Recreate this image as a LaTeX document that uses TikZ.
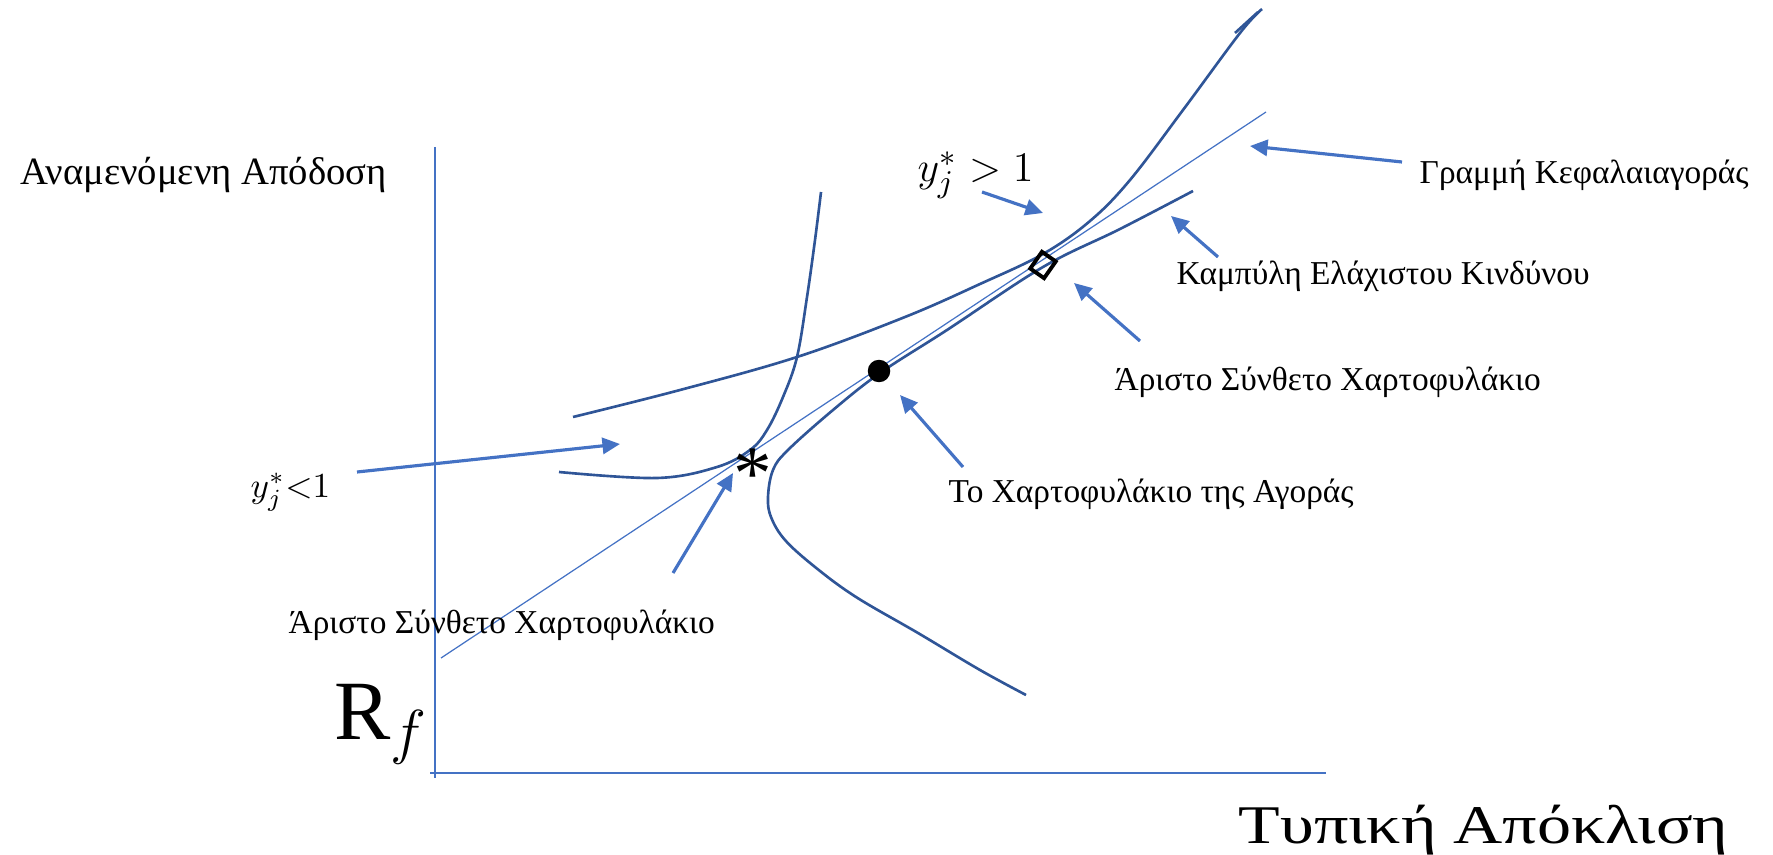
\documentclass[tikz,border=0pt]{standalone}
\usepackage{fontspec}
\setmainfont{Liberation Serif}
\newfontfamily\wideserif[FakeStretch=1.25]{Liberation Serif}
\usepackage{tikz}
\usetikzlibrary{graphs}
\usetikzlibrary{arrows.meta}
\usepackage{xcolor}
\definecolor{axisblue}{HTML}{4472C4}
\definecolor{curveblue}{HTML}{2F5597}

\begin{document}
\begin{tikzpicture}[
    >={Triangle[length=5pt,width=4.6pt]},
    axisline/.style={axisblue, line width=0.35pt},
    frontier/.style={curveblue, line width=0.75pt},
    pointer/.style={axisblue, line width=0.9pt},
    lbl/.style={anchor=west, inner sep=0pt, font=\fontsize{9.5}{11}\selectfont},
  ]
            \useasboundingbox (0,0) rectangle (17.73,8.54);

            % axes
            \draw[axisline] (4.35,7.07) -- (4.35,0.76);
            \draw[axisline] (4.30,0.81) -- (13.26,0.81);
            \draw[axisline] (4.41,1.96) -- (12.66,7.42);

            % minimum variance curve
            \draw[frontier] plot[smooth, tension=0.6] coordinates {(10.26,1.59) (9.80,1.84) (9.18,2.21) (8.56,2.57) (8.15,2.87) (7.85,3.14) (7.71,3.37) (7.68,3.57) (7.73,3.84) (7.88,4.04) (8.33,4.44) (8.80,4.81) (9.47,5.24) (10.43,5.87) (11.20,6.25) (11.93,6.63)};
            % indifference curves
            \draw[frontier] plot[smooth, tension=0.6] coordinates {(5.59,3.82) (6.57,3.76) (7.17,3.87) (7.50,4.04) (7.67,4.24) (7.83,4.57) (7.97,4.97) (8.07,5.57) (8.15,6.14) (8.21,6.62)};
            \draw[frontier] plot[smooth, tension=0.6] coordinates {(5.73,4.37) (6.80,4.64) (7.97,4.97) (9.05,5.37) (9.80,5.70) (10.43,6.00) (10.90,6.33) (11.30,6.74) (11.83,7.44) (12.40,8.21) (12.62,8.45)};
            \draw[frontier] (12.35,8.21) -- (12.58,8.42);

            \node (market) at (8.79, 4.83) [circle, fill=black, inner sep=0pt, minimum size=6.4pt] {};
            \node (optimum) at (10.43, 5.89) [draw=black, line width=1.1pt, rotate=-35, inner sep=0pt, minimum width=4.8pt, minimum height=5.8pt] {};
            \node (star) at (7.53, 3.55) [anchor=base, inner sep=0pt, font=\fontsize{22}{24}\selectfont] {*};

            \node (ylab) at (0.20, 6.79) [lbl, font=\fontsize{11}{13}\selectfont] {Αναμενόμενη Απόδοση};
            \node (xlab) at (12.38, 0.24) [lbl, font=\wideserif\fontsize{15.5}{18}\selectfont] {Τυπική Απόκλιση};
            \node (rf) at (3.81, 1.30) [inner sep=0pt, font=\fontsize{24}{28}\selectfont] {R$_{f}$};
            \node (ygt) at (9.17, 6.79) [lbl, font=\fontsize{13}{15}\selectfont] {$y_j^{*}>1$};
            \node (ylt) at (2.50, 3.62) [lbl, font=\fontsize{10}{12}\selectfont] {$y_j^{*}{<}1$};
            \node (cmllab) at (14.19, 6.79) [lbl] {Γραμμή Κεφαλαιαγοράς};
            \node (mvlab) at (11.76, 5.78) [lbl] {Καμπύλη Ελάχιστου Κινδύνου};
            \node (optlab) at (11.14, 4.72) [lbl] {Άριστο Σύνθετο Χαρτοφυλάκιο};
            \node (mktlab) at (9.48, 3.60) [lbl] {Το Χαρτοφυλάκιο της Αγοράς};
            \node (starlab) at (2.88, 2.29) [lbl] {Άριστο Σύνθετο Χαρτοφυλάκιο};

            \coordinate (t1) at (14.02, 6.92);
            \coordinate (h1) at (12.50, 7.08);
            \coordinate (t2) at (12.18, 5.97);
            \coordinate (h2) at (11.71, 6.38);
            \coordinate (t3) at (11.40, 5.13);
            \coordinate (h3) at (10.74, 5.71);
            \coordinate (t4) at (9.63, 3.87);
            \coordinate (h4) at (9.00, 4.59);
            \coordinate (t5) at (9.82, 6.62);
            \coordinate (h5) at (10.43, 6.41);
            \coordinate (t6) at (3.57, 3.82);
            \coordinate (h6) at (6.20, 4.10);
            \coordinate (t7) at (6.73, 2.81);
            \coordinate (h7) at (7.33, 3.81);

            \graph {(t1) ->[pointer] (h1)};
            \graph {(t2) ->[pointer] (h2)};
            \graph {(t3) ->[pointer] (h3)};
            \graph {(t4) ->[pointer] (h4)};
            \graph {(t5) ->[pointer] (h5)};
            \graph {(t6) ->[pointer] (h6)};
            \graph {(t7) ->[pointer] (h7)};
        \end{tikzpicture}
\end{document}
